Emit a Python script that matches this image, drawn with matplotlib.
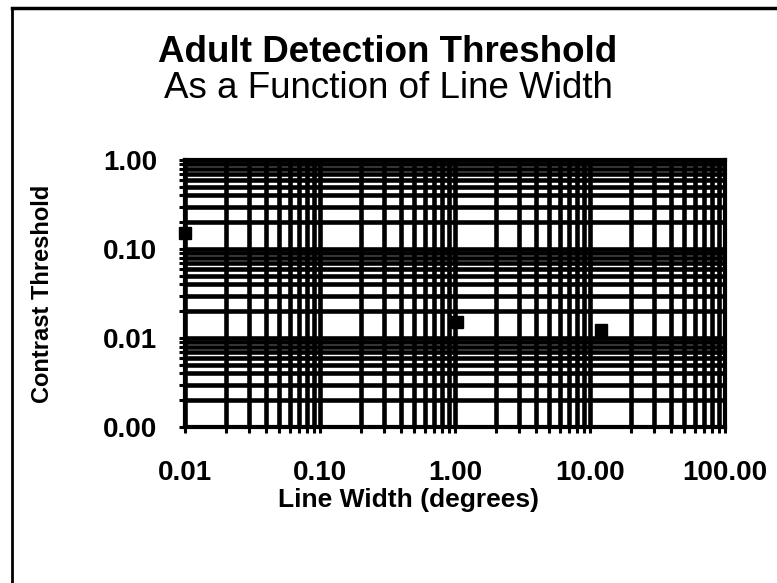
import matplotlib
matplotlib.use("Agg")
import matplotlib.pyplot as plt
from matplotlib.lines import Line2D
from matplotlib.ticker import FixedLocator, LogLocator, NullFormatter

plt.rcParams['font.family'] = ['Liberation Sans', 'DejaVu Sans']

# Measured thresholds (line width in degrees, contrast threshold)
line_width = [0.01, 1.04, 12.1]
contrast_threshold = [0.15, 0.0151, 0.0122]

x_ticks = [0.01, 0.1, 1, 10, 100]
x_tick_labels = ["0.01", "0.10", "1.00", "10.00", "100.00"]
y_ticks = [0.001, 0.01, 0.1, 1]
y_tick_labels = ["0.00", "0.01", "0.10", "1.00"]

title_main = "Adult Detection Threshold"
title_sub = "As a Function of Line Width"
x_label = "Line Width (degrees)"
y_label = "Contrast Threshold"

W, H = 777, 583
fig = plt.figure(figsize=(W / 100, H / 100), dpi=100)
fig.patch.set_facecolor("white")

ax = fig.add_axes([185 / W, 1 - 427 / H, 540 / W, 267 / H])
ax.set_xscale("log")
ax.set_yscale("log")
ax.set_xlim(x_ticks[0], x_ticks[-1])
ax.set_ylim(y_ticks[0], y_ticks[-1])

ax.xaxis.set_major_locator(FixedLocator(x_ticks))
ax.yaxis.set_major_locator(FixedLocator(y_ticks))
ax.set_xticklabels(x_tick_labels)
ax.set_yticklabels(y_tick_labels)
ax.xaxis.set_minor_locator(LogLocator(base=10, subs=range(2, 10)))
ax.yaxis.set_minor_locator(LogLocator(base=10, subs=range(2, 10)))
ax.xaxis.set_minor_formatter(NullFormatter())
ax.yaxis.set_minor_formatter(NullFormatter())

# heavy black grid on every major and minor decade line
ax.grid(True, which="both", color="black", linewidth=3.3)
ax.set_axisbelow(True)
for s in ax.spines.values():
    s.set_linewidth(3)

ax.tick_params(axis="both", which="both", direction="out", length=4,
               width=2.2, color="black")
ax.tick_params(axis="x", which="major", pad=20, labelsize=20)
ax.tick_params(axis="y", which="major", pad=16, labelsize=20)
for lab in ax.get_xticklabels() + ax.get_yticklabels():
    lab.set_fontweight("bold")

ax.plot(line_width, contrast_threshold, "s", color="black",
        markersize=8, clip_on=False, zorder=5)

ax.set_xlabel(x_label, fontsize=19, fontweight="bold")
ax.xaxis.set_label_coords((408 - 185) / 540, (427 - 500) / 267)
ax.xaxis.label.set_va("center")
ax.set_ylabel(y_label, fontsize=17, fontweight="bold")
ax.yaxis.set_label_coords((43 - 185) / 540, 0.5)
ax.yaxis.label.set_va("center")

fig.text(388 / W, 1 - 52 / H, title_main, fontsize=26.5, fontweight="bold",
         ha="center", va="center")
fig.text(388 / W, 1 - 89 / H, title_sub, fontsize=26.5,
         ha="center", va="center")

# outer frame (left and top edges)
fig.add_artist(Line2D([12 / W, 12 / W], [0, 1 - 8 / H], color="black",
                      linewidth=2, transform=fig.transFigure))
fig.add_artist(Line2D([12 / W, 1], [1 - 8 / H, 1 - 8 / H], color="black",
                      linewidth=2.5, transform=fig.transFigure))

fig.savefig("out.png", dpi=100)
